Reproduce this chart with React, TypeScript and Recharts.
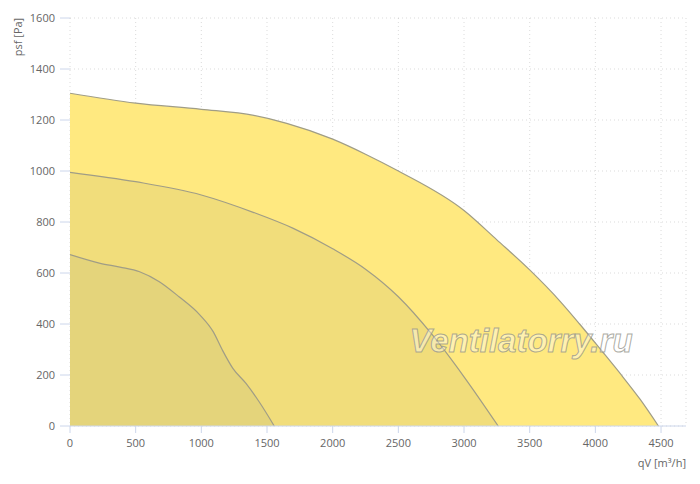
import { ComposedChart, Area, XAxis, YAxis, CartesianGrid, Label } from "recharts";

// fan curves: airflow qV [m³/h] vs static pressure psf [Pa]
const outerQ = [0, 500, 1000, 1400, 1650, 2000, 2250, 2500, 3000, 3250, 3500, 3730, 3880, 4040, 4190, 4340, 4480];
const outerP = [1305, 1266, 1242, 1218, 1187, 1125, 1066, 1000, 845, 730, 612, 490, 400, 300, 205, 105, 0];

const middleQ = [0, 500, 1000, 1400, 1700, 2000, 2250, 2500, 2750, 3000, 3260];
const middleP = [995, 958, 906, 837, 775, 695, 615, 507, 363, 193, 0];

const innerQ = [0, 230, 380, 530, 680, 830, 990, 1090, 1160, 1240, 1340, 1440, 1555];
const innerP = [672, 638, 623, 605, 566, 507, 435, 370, 298, 226, 167, 95, 0];

const xTicks = [0, 500, 1000, 1500, 2000, 2500, 3000, 3500, 4000, 4500];
const yTicks = [0, 200, 400, 600, 800, 1000, 1200, 1400, 1600];

const toRows = (q: number[], p: number[]) => q.map((v, i) => ({ q: v, p: p[i] }));

const font = "'Open Sans', 'DejaVu Sans', sans-serif";
const tickStyle = { fill: "#666", fontSize: 11, fontFamily: font };

export default function App() {
  return (
    <div style={{ position: "absolute", left: 0, top: 0, width: 700, height: 484, background: "#fff" }}>
      <ComposedChart width={700} height={484} margin={{ top: 18, right: 14, bottom: 28, left: 10 }}>
        <XAxis
          type="number"
          dataKey="q"
          domain={[0, 4690]}
          ticks={xTicks}
          allowDataOverflow
          stroke="#ccd6eb"
          tickSize={7}
          tickMargin={6}
          tick={tickStyle}
          height={30}
        >
          <Label
            content={({ viewBox }: any) => (
              <text
                x={viewBox.x + viewBox.width}
                y={viewBox.y + 41}
                textAnchor="end"
                fill="#666"
                fontSize={11}
                fontFamily={font}
              >
                qV [m³/h]
              </text>
            )}
          />
        </XAxis>
        <YAxis
          type="number"
          dataKey="p"
          domain={[0, 1600]}
          ticks={yTicks}
          axisLine={false}
          tickLine={{ stroke: "#ccd6eb" }}
          tickSize={10}
          tickMargin={5}
          tick={tickStyle}
          width={60}
        >
          <Label
            content={({ viewBox }: any) => (
              <text
                x={viewBox.x + 7}
                y={viewBox.y + 19}
                transform={`rotate(-90 ${viewBox.x + 7} ${viewBox.y + 19})`}
                textAnchor="middle"
                dominantBaseline="central"
                fill="#666"
                fontSize={11}
                fontFamily={font}
              >
                psf [Pa]
              </text>
            )}
          />
        </YAxis>
        <Area
          data={toRows(outerQ, outerP)}
          dataKey="p"
          type="monotone"
          fill="#ffe980"
          fillOpacity={1}
          stroke="#a09d86"
          strokeWidth={1.2}
          isAnimationActive={false}
        />
        <Area
          data={toRows(middleQ, middleP)}
          dataKey="p"
          type="monotone"
          fill="#f1dd7b"
          fillOpacity={1}
          stroke="#a09d86"
          strokeWidth={1.2}
          isAnimationActive={false}
        />
        <Area
          data={toRows(innerQ, innerP)}
          dataKey="p"
          type="monotone"
          fill="#e4d47b"
          fillOpacity={1}
          stroke="#a09d86"
          strokeWidth={1.2}
          isAnimationActive={false}
        />
        <CartesianGrid stroke="rgba(190,190,190,0.55)" strokeDasharray="1 3" />
      </ComposedChart>
      <svg width={700} height={484} style={{ position: "absolute", left: 0, top: 0, pointerEvents: "none" }}>
        <text
          x={521}
          y={352}
          textAnchor="middle"
          fontFamily="'Liberation Sans', Arial, sans-serif"
          fontStyle="italic"
          fontWeight="bold"
          fontSize={33}
          fill="rgba(255,255,255,0.4)"
          stroke="rgba(150,150,140,0.8)"
          strokeWidth={1}
        >
          Ventilatorry.ru
        </text>
      </svg>
    </div>
  );
}
